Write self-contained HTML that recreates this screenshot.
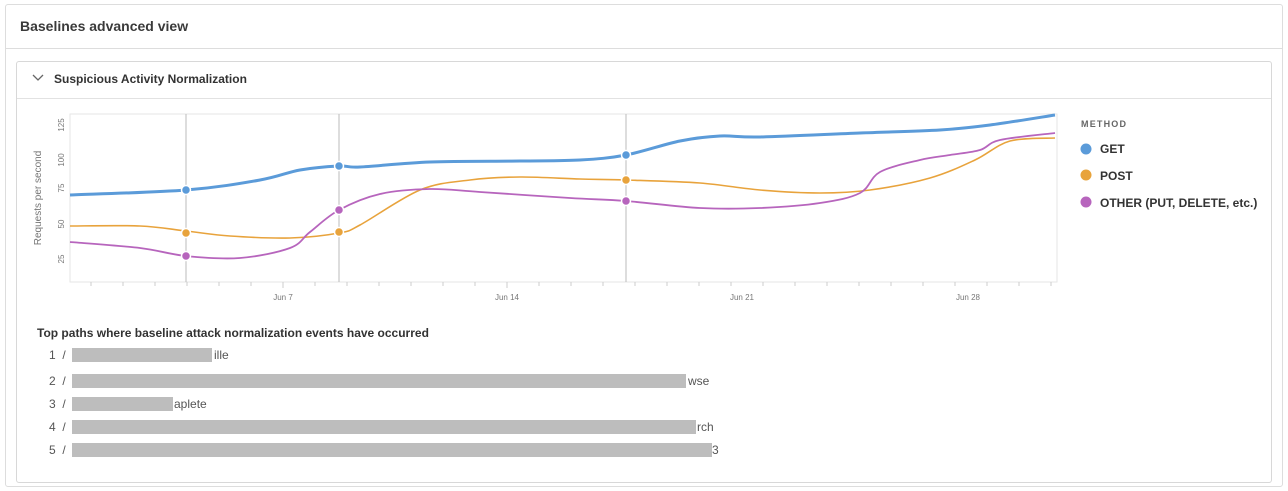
<!DOCTYPE html>
<html><head><meta charset="utf-8"><style>
body{margin:0;width:1288px;height:491px;background:#fff;font-family:"Liberation Sans",sans-serif;overflow:hidden;position:relative}
.abs{position:absolute}
.t{color:#333;white-space:nowrap}
.bar{position:absolute;background:#bdbdbd;height:14px}
.num{position:absolute;font-size:12px;color:#555}
</style></head><body>
<div class="abs" style="left:5px;top:4px;width:1276px;height:481px;border:1px solid #ddd;border-radius:3px"></div>
<div class="abs t" style="left:20px;top:18px;font-size:14px;font-weight:bold;color:#3a3a3a">Baselines advanced view</div>
<div class="abs" style="left:6px;top:48px;width:1276px;height:1px;background:#ddd"></div>
<div class="abs" style="left:16px;top:61px;width:1254px;height:420px;border:1px solid #d8d8d8;border-radius:3px"></div>
<div class="abs" style="left:17px;top:98px;width:1254px;height:1px;background:#e2e2e2"></div>
<svg class="abs" style="left:32px;top:74px" width="12" height="8"><path d="M1,1 L6,6 L11,1" fill="none" stroke="#666" stroke-width="1.3"/></svg>
<div class="abs t" style="left:54px;top:72px;font-size:12px;font-weight:bold;color:#333">Suspicious Activity Normalization</div>

<svg class="abs" style="left:0;top:0" width="1288" height="491" id="s">
<rect x="70" y="114" width="987" height="168" fill="none" stroke="#e6e6e6"/>
<g stroke="#bbb" stroke-width="1">
<line x1="186" y1="114" x2="186" y2="282"/><line x1="339" y1="114" x2="339" y2="282"/><line x1="626" y1="114" x2="626" y2="282"/>
</g>
<g id="ticks" stroke="#ccc"></g>
<g font-size="8" fill="#777" font-family="Liberation Sans">
<text transform="translate(64,125) rotate(-90)" text-anchor="middle">125</text>
<text transform="translate(64,160) rotate(-90)" text-anchor="middle">100</text>
<text transform="translate(64,188) rotate(-90)" text-anchor="middle">75</text>
<text transform="translate(64,224) rotate(-90)" text-anchor="middle">50</text>
<text transform="translate(64,259) rotate(-90)" text-anchor="middle">25</text>
<text transform="translate(41,198) rotate(-90)" text-anchor="middle" font-size="10">Requests per second</text>
<text x="283" y="300" text-anchor="middle">Jun 7</text>
<text x="507" y="300" text-anchor="middle">Jun 14</text>
<text x="742" y="300" text-anchor="middle">Jun 21</text>
<text x="968" y="300" text-anchor="middle">Jun 28</text>
</g>
<path id="get" fill="none" stroke="#5b9bd9" stroke-width="3"/>
<path id="post" fill="none" stroke="#e8a33c" stroke-width="1.6"/>
<path id="oth" fill="none" stroke="#b765bd" stroke-width="1.8"/>
<g stroke="#fff" stroke-width="1.5">
<circle cx="186" cy="190" r="4.5" fill="#5b9bd9"/><circle cx="339" cy="166" r="4.5" fill="#5b9bd9"/><circle cx="626" cy="155" r="4.5" fill="#5b9bd9"/>
<circle cx="186" cy="233" r="4.5" fill="#e8a33c"/><circle cx="339" cy="232" r="4.5" fill="#e8a33c"/><circle cx="626" cy="180" r="4.5" fill="#e8a33c"/>
<circle cx="186" cy="256" r="4.5" fill="#b765bd"/><circle cx="339" cy="210" r="4.5" fill="#b765bd"/><circle cx="626" cy="201" r="4.5" fill="#b765bd"/>
</g>
<g font-family="Liberation Sans" fill="#333">
<text x="1081" y="127" font-size="9" font-weight="bold" letter-spacing="1.2" fill="#666">METHOD</text>
<circle cx="1086" cy="149" r="5.5" fill="#5b9bd9"/><text x="1100" y="153" font-size="12" font-weight="bold">GET</text>
<circle cx="1086" cy="175" r="5.5" fill="#e8a33c"/><text x="1100" y="180" font-size="12" font-weight="bold">POST</text>
<circle cx="1086" cy="202" r="5.5" fill="#b765bd"/><text x="1100" y="207" font-size="12" font-weight="bold">OTHER (PUT, DELETE, etc.)</text>
</g>
</svg>

<div class="abs t" style="left:37px;top:326px;font-size:12px;font-weight:bold;color:#333">Top paths where baseline attack normalization events have occurred</div>
<div class="num" style="left:49px;top:348px">1&nbsp;&nbsp;/</div><div class="bar" style="left:72px;top:348px;width:140px"></div><div class="num" style="left:214px;top:348px">ille</div>
<div class="num" style="left:49px;top:374px">2&nbsp;&nbsp;/</div><div class="bar" style="left:72px;top:374px;width:614px"></div><div class="num" style="left:688px;top:374px">wse</div>
<div class="num" style="left:49px;top:397px">3&nbsp;&nbsp;/</div><div class="bar" style="left:72px;top:397px;width:101px"></div><div class="num" style="left:174px;top:397px">aplete</div>
<div class="num" style="left:49px;top:420px">4&nbsp;&nbsp;/</div><div class="bar" style="left:72px;top:420px;width:624px"></div><div class="num" style="left:697px;top:420px">rch</div>
<div class="num" style="left:49px;top:443px">5&nbsp;&nbsp;/</div><div class="bar" style="left:72px;top:443px;width:640px"></div><div class="num" style="left:712px;top:443px">3</div>

<script>
function cr(p){let d="M"+p[0][0]+","+p[0][1];for(let i=0;i<p.length-1;i++){const a=p[i-1]||p[i],b=p[i],c=p[i+1],e=p[i+2]||c;
d+=` C${b[0]+(c[0]-a[0])/6},${b[1]+(c[1]-a[1])/6} ${c[0]-(e[0]-b[0])/6},${c[1]-(e[1]-b[1])/6} ${c[0]},${c[1]}`;}return d;}
document.getElementById("get").setAttribute("d",cr([[70,195],[186,190],[260,180],[300,170],[339,166],[360,167],[430,162],[520,161],[580,160],[626,155],[680,141],[720,136],[760,137],[860,133],[940,130],[990,125],[1055,115]]));
document.getElementById("post").setAttribute("d",cr([[70,226],[140,226],[186,231],[230,236],[290,238],[339,233],[360,225],[420,190],[470,180],[520,177],[580,179],[626,180],[700,183],[760,190],[820,193],[870,190],[930,178],[975,160],[1010,141],[1055,138]]));
document.getElementById("oth").setAttribute("d",cr([[70,242],[140,248],[186,256],[240,258],[290,248],[310,232],[339,210],[380,194],[430,189],[480,192],[570,198],[626,201],[700,208],[760,208],[820,203],[860,193],[880,172],[920,160],[950,155],[980,150],[1000,140],[1055,133]]));
let t="";for(let x=283-32*6;x<1057;x+=32){if(x>70)t+=`<line x1="${x}" y1="282" x2="${x}" y2="${[283,507,742,968].some(v=>Math.abs(v-x)<6)?288:286}"/>`;}
document.getElementById("ticks").innerHTML=t;
</script>
</body></html>
